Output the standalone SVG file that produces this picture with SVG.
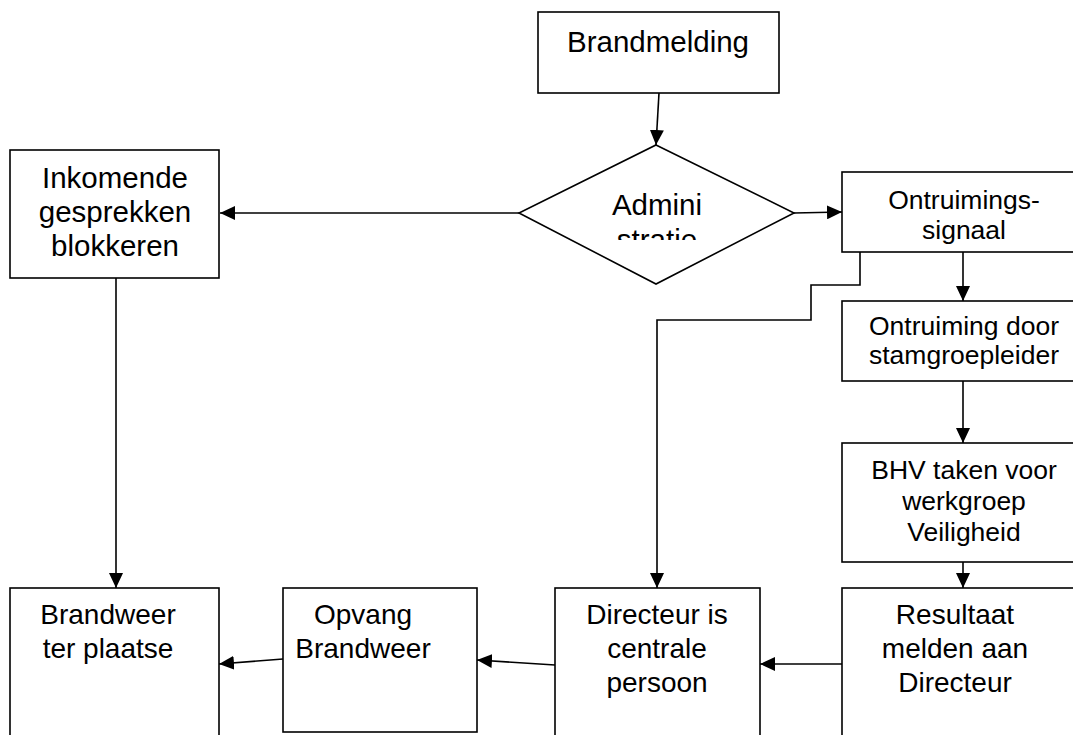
<svg xmlns="http://www.w3.org/2000/svg" width="1073" height="735" viewBox="0 0 1073 735">
<defs>
<style>
.box{fill:#fff;stroke:#000;stroke-width:1.6}
.t{font-family:"Liberation Sans",Arial,sans-serif;font-size:28px;fill:#000;text-anchor:middle}
.l{font-size:29.5px}
.s{font-size:26.5px}
.c{fill:none;stroke:#000;stroke-width:1.6}
</style>
<marker id="ah" markerUnits="userSpaceOnUse" markerWidth="16" markerHeight="14" refX="15" refY="7" orient="auto">
<path d="M0,0 L15,7 L0,14 Z" fill="#000"/>
</marker>
<clipPath id="dclip"><rect x="560" y="180" width="200" height="60"/></clipPath>
</defs>
<rect width="1073" height="735" fill="#fff"/>

<g id="brandmelding">
<rect class="box" x="538" y="12" width="241" height="81"/>
<text class="t l" x="658" y="52">Brandmelding</text>
</g>

<g id="administratie">
<polygon class="box" points="656,145 794,213 656,284 519,213"/>
<g clip-path="url(#dclip)">
<text class="t l" x="657" y="215">Admini</text>
<text class="t l" x="657" y="250">stratie</text>
</g>
</g>

<g id="inkomende">
<rect class="box" x="10" y="150" width="209" height="128"/>
<text class="t l" x="115" y="188">Inkomende</text>
<text class="t l" x="115" y="222">gesprekken</text>
<text class="t l" x="115" y="256">blokkeren</text>
</g>

<g id="ontruimingssignaal">
<rect class="box" x="842" y="172" width="240" height="80"/>
<text class="t s" x="964" y="209">Ontruimings-</text>
<text class="t s" x="964" y="239">signaal</text>
</g>

<g id="ontruiming-door">
<rect class="box" x="842" y="301" width="240" height="80"/>
<text class="t s" x="964" y="335">Ontruiming door</text>
<text class="t s" x="964" y="364">stamgroepleider</text>
</g>

<g id="bhv">
<rect class="box" x="842" y="443" width="240" height="119"/>
<text class="t s" x="964" y="479">BHV taken voor</text>
<text class="t s" x="964" y="510">werkgroep</text>
<text class="t s" x="964" y="541">Veiligheid</text>
</g>

<g id="resultaat">
<rect class="box" x="842" y="588" width="240" height="160"/>
<text class="t" x="955" y="624">Resultaat</text>
<text class="t" x="955" y="658">melden aan</text>
<text class="t" x="955" y="692">Directeur</text>
</g>

<g id="directeur">
<rect class="box" x="555" y="588" width="205" height="160"/>
<text class="t" x="657" y="624">Directeur is</text>
<text class="t" x="657" y="658">centrale</text>
<text class="t" x="657" y="692">persoon</text>
</g>

<g id="opvang">
<rect class="box" x="283" y="588" width="194" height="144"/>
<text class="t" x="363" y="624">Opvang</text>
<text class="t" x="363" y="658">Brandweer</text>
</g>

<g id="brandweer">
<rect class="box" x="10" y="588" width="209" height="160"/>
<text class="t" x="108" y="624">Brandweer</text>
<text class="t" x="108" y="658">ter plaatse</text>
</g>

<g id="connectors">
<line class="c" x1="659" y1="93" x2="656" y2="145" marker-end="url(#ah)"/>
<line class="c" x1="519" y1="213" x2="220" y2="213" marker-end="url(#ah)"/>
<line class="c" x1="794" y1="213" x2="842" y2="212" marker-end="url(#ah)"/>
<line class="c" x1="963" y1="252" x2="963" y2="301" marker-end="url(#ah)"/>
<line class="c" x1="963" y1="381" x2="963" y2="443" marker-end="url(#ah)"/>
<line class="c" x1="963" y1="562" x2="963" y2="588" marker-end="url(#ah)"/>
<polyline class="c" points="860,252 860,285 811,285 811,320 657,320 657,588" marker-end="url(#ah)"/>
<line class="c" x1="116" y1="278" x2="116" y2="588" marker-end="url(#ah)"/>
<line class="c" x1="842" y1="664" x2="760" y2="664" marker-end="url(#ah)"/>
<line class="c" x1="555" y1="665" x2="477" y2="660" marker-end="url(#ah)"/>
<line class="c" x1="283" y1="659" x2="219" y2="664" marker-end="url(#ah)"/>
</g>
</svg>
